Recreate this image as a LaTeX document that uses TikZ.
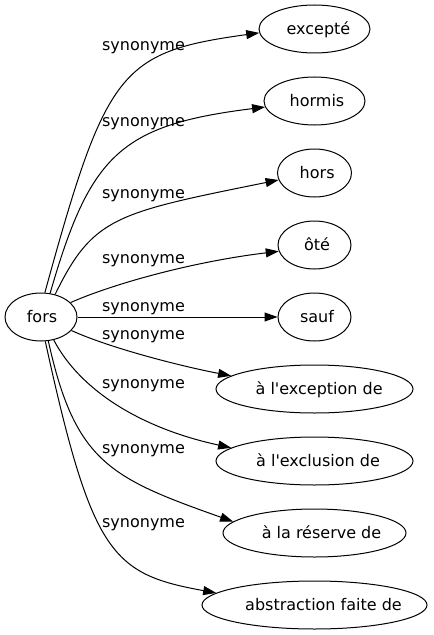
\documentclass[tikz,border=0pt]{standalone}
\usepackage{fontspec}
\setmainfont{DejaVu Sans}
\usetikzlibrary{shapes.geometric,arrows.meta}

% text set a little to the right of the node centre
\newcommand{\offtext}[2]{\makebox[0pt]{\hspace*{#1}#2}}

\begin{document}
\begin{tikzpicture}[
  x = 0.75pt, y = -0.75pt,
  every node/.style = {font = \fontsize{12pt}{14pt}\selectfont, inner sep = 0pt,
                       text height = 10.5pt, text depth = 2.5pt},
  word/.style = {draw, ellipse, line width = 0.75pt, minimum height = 36pt},
  rel/.style = {-{Triangle[length = 9.75pt, width = 6.75pt]}, line width = 0.75pt},
  ]
  \useasboundingbox (0,0) rectangle (433,635);

  % the head word and its synonyms
  \node[word, minimum width = 54pt] (fors) at (41,317) {\offtext{1.5pt}{fors}};
  \node[word, minimum width = 83.25pt] (excepte) at (314.5,29) {\offtext{6pt}{excepté}};
  \node[word, minimum width = 75.75pt] (hormis) at (314.5,101) {\offtext{3.75pt}{hormis}};
  \node[word, minimum width = 55.5pt] (hors) at (314.5,173) {\offtext{4pt}{hors}};
  \node[word, minimum width = 54.75pt] (ote) at (314.5,245) {\offtext{3.75pt}{ôté}};
  \node[word, minimum width = 54.75pt] (sauf) at (314.5,317) {\offtext{3.75pt}{sauf}};
  \node[word, minimum width = 147.75pt] (exception) at (314.5,389) {\offtext{7pt}{à l\textquotesingle exception de}};
  \node[word, minimum width = 147.75pt] (exclusion) at (314.5,461) {\offtext{5.25pt}{à l\textquotesingle exclusion de}};
  \node[word, minimum width = 137.25pt] (reserve) at (314.5,533) {\offtext{10.5pt}{à la réserve de}};
  \node[word, minimum width = 168.75pt] (abstraction) at (314.5,605) {\offtext{13.5pt}{abstraction faite de}};

  % edge labels
  \node (syn1) at (143.5,44.7) {synonyme};
  \node (syn2) at (143.5,120.7) {synonyme};
  \node (syn3) at (143.5,193) {synonyme};
  \node (syn4) at (143.5,257.7) {synonyme};
  \node (syn5) at (143.5,306.2) {synonyme};
  \node (syn6) at (143.5,333.7) {synonyme};
  \node (syn7) at (143.5,383) {synonyme};
  \node (syn8) at (143.5,448) {synonyme};
  \node (syn9) at (143.5,522) {synonyme};

  % edges
  \draw[rel] (fors.81) .. controls (106,70) and (120,52) .. (excepte.184);
  \draw[rel] (fors.69) .. controls (90,155) and (120,125) .. (hormis.187);
  \draw[rel] (fors.58) .. controls (93,217) and (115,213) .. (hors.191);
  \draw[rel] (fors.26) .. controls (110,285) and (190,262) .. (ote.190);
  \draw[rel] (fors.east) -- (sauf.west);
  \draw[rel] (fors.-24) .. controls (110,348) and (180,366) .. (exception.171);
  \draw[rel] (fors.-61) .. controls (80,390) and (140,428) .. (exclusion.171);
  \draw[rel] (fors.-73) .. controls (75,462) and (110,478) .. (reserve.172);
  \draw[rel] (fors.-80) .. controls (92,555) and (112,574) .. (abstraction.173);
\end{tikzpicture}
\end{document}
